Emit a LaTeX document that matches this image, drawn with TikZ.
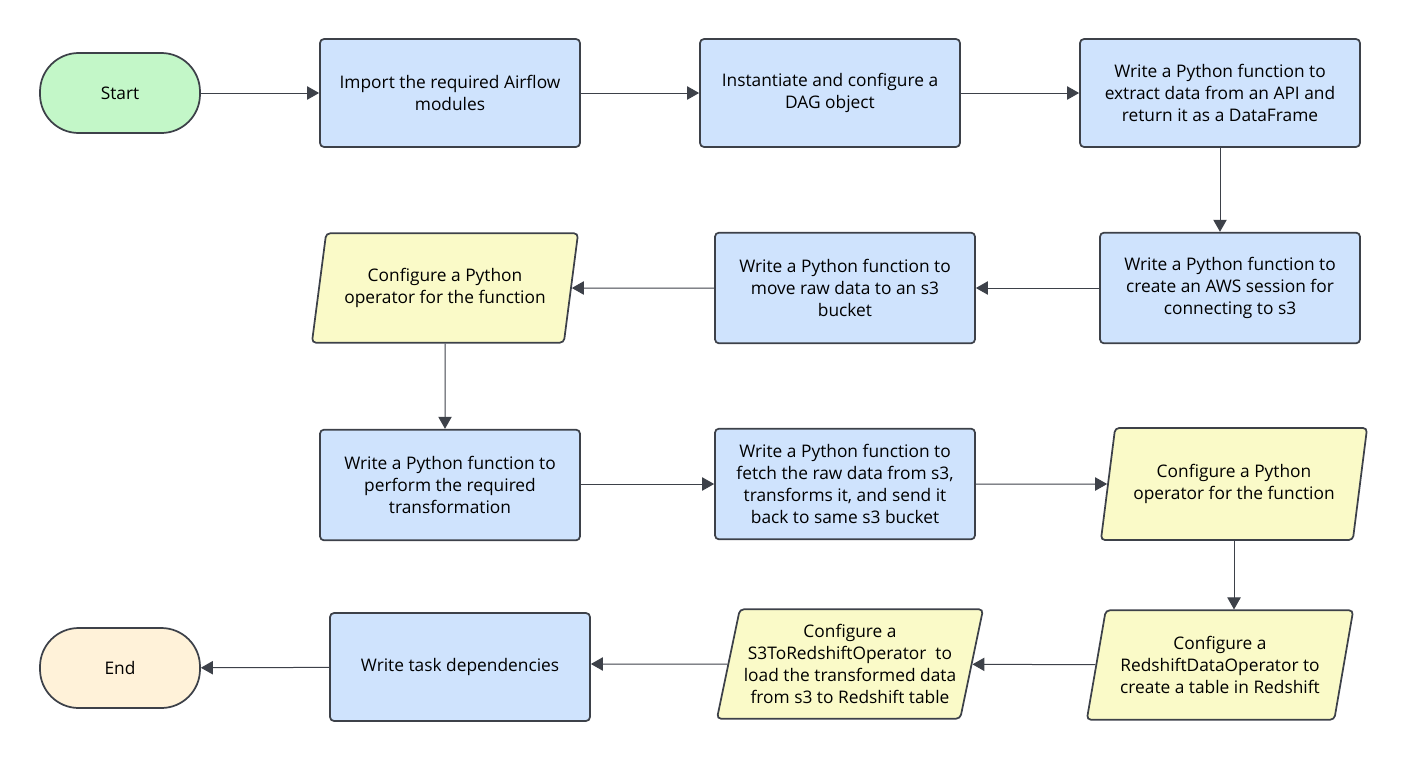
\documentclass[tikz,border=0pt]{standalone}
\usepackage{fontspec}
\setmainfont{Open Sans}
\usepackage{xcolor}
\usetikzlibrary{shapes.geometric,arrows.meta}

\definecolor{linegray}{HTML}{3D4149}
\definecolor{startgreen}{HTML}{C3F7C8}
\definecolor{stepblue}{HTML}{CFE3FD}
\definecolor{opyellow}{HTML}{FAFAC8}
\definecolor{endorange}{HTML}{FFF2D9}

\begin{document}
\begin{tikzpicture}[x=0.75pt,y=-0.75pt,
    font=\fontsize{13}{16.5}\selectfont,
    terminal/.style={draw=linegray, line width=1.3pt, rounded corners=29pt,
        minimum width=120pt, minimum height=60pt, align=center},
    stepbox/.style={draw=linegray, line width=1.3pt, fill=stepblue, rounded corners=3pt,
        minimum width=195pt, minimum height=81pt, align=center},
    opbox/.style={trapezium, trapezium left angle=76, trapezium right angle=104,
        trapezium stretches=true, draw=linegray, line width=1.3pt, fill=opyellow,
        rounded corners=3pt, minimum width=200pt, minimum height=82pt, align=center,
        inner xsep=0pt},
    flow/.style={draw=linegray, line width=0.75pt, -{Triangle[length=9pt,width=10pt]}}]
    \useasboundingbox (0,0) rectangle (1410,761);

    % first row
    \node[terminal, fill=startgreen] (start) at (120,93) {Start};
    \node[stepbox] (imports) at (450,93) {Import the required Airflow\\modules};
    \node[stepbox] (dag) at (830,93) {Instantiate and configure a\\DAG object};
    \node[stepbox, minimum width=210pt] (extract) at (1220,93)
        {Write a Python function to\\extract data from an API and\\return it as a DataFrame};

    % second row
    \node[stepbox, minimum height=83pt] (session) at (1230,288)
        {Write a Python function to\\create an AWS session for\\connecting to s3};
    \node[stepbox, minimum height=83pt] (moveraw) at (845,288)
        {Write a Python function to\\move raw data to an s3\\bucket};
    \node[opbox] (operatorA) at (445,288) {Configure a Python\\operator for the function};

    % third row
    \node[stepbox, minimum height=83pt] (transform) at (450,485)
        {Write a Python function to\\perform the required\\transformation};
    \node[stepbox, minimum height=83pt] (fetch) at (845,484)
        {Write a Python function to\\fetch the raw data from s3,\\transforms it, and send it\\back to same s3 bucket};
    \node[opbox, minimum height=84pt] (operatorB) at (1234,484)
        {Configure a Python\\operator for the function};

    % fourth row
    \node[opbox] (redshiftop) at (1220,665)
        {Configure a\\RedshiftDataOperator to\\create a table in Redshift};
    \node[opbox] (s3toredshift) at (850,664)
        {Configure a\\S3ToRedshiftOperator~ to\\load the transformed data\\from s3 to Redshift table};
    \node[stepbox] (depends) at (460,667) {Write task dependencies};
    \node[terminal, fill=endorange] (end) at (120,668) {End};

    % connectors
    \draw[flow] (start) -- (imports);
    \draw[flow] (imports) -- (dag);
    \draw[flow] (dag) -- (extract);
    \draw[flow] (extract) -- (extract|-session.north);
    \draw[flow] (session) -- (moveraw);
    \draw[flow] (moveraw) -- (operatorA);
    \draw[flow] (operatorA) -- (operatorA|-transform.north);
    \draw[flow] (transform.east|-fetch) -- (fetch);
    \draw[flow] (fetch) -- (operatorB);
    \draw[flow] (operatorB.south) -- (operatorB.south|-redshiftop.north);
    \draw[flow] (redshiftop) -- (s3toredshift);
    \draw[flow] (s3toredshift) -- (s3toredshift-|depends.east);
    \draw[flow] (depends) -- (end);
\end{tikzpicture}
\end{document}
